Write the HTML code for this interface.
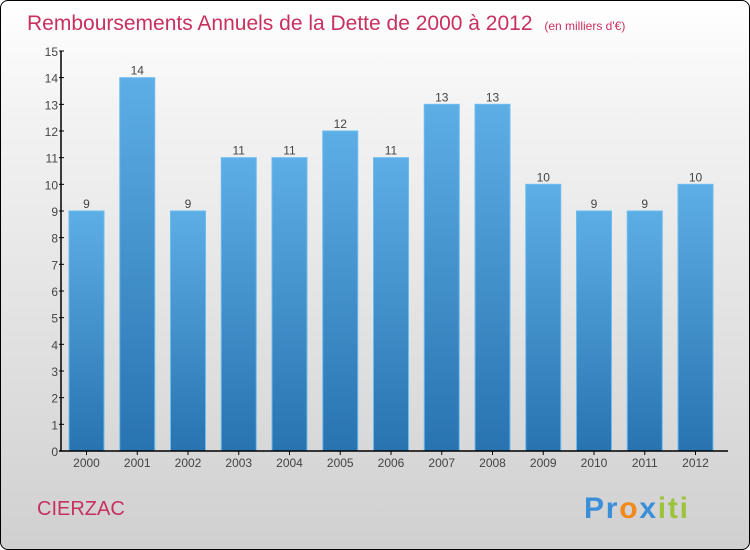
<!DOCTYPE html>
<html><head><meta charset="utf-8"><style>
body{margin:0;width:750px;height:550px;overflow:hidden}
#c{position:absolute;left:0;top:0;width:748px;height:548px;border:1px solid #000;border-radius:8px;background:linear-gradient(#ffffff,#f3f3f3 20%,#d0d0d0);overflow:hidden}
svg{position:absolute;left:0;top:0}
text{font-family:"Liberation Sans",sans-serif}
</style></head><body>
<div id="c">
<svg id="s" width="750" height="550">
<defs><linearGradient id="g" x1="0" y1="0" x2="0" y2="1"><stop offset="0" stop-color="#5eaee6"/><stop offset="1" stop-color="#2873b0"/></linearGradient></defs>
<text x="26" y="29" font-size="21" fill="#c8305f">Remboursements Annuels de la Dette de 2000 à 2012 <tspan font-size="12" dx="6">(en milliers d'€)</tspan></text>
<text x="36" y="514" font-size="20" fill="#c8305f">CIERZAC</text>
<text x="583" y="517" font-size="30" font-weight="bold" textLength="104"><tspan fill="#3a8fd8">Pr</tspan><tspan fill="#f08a1c">o</tspan><tspan fill="#3a8fd8">x</tspan><tspan fill="#9bc43a">iti</tspan></text>
<g id="plot"></g>
</svg></div>
<script>
const years=["2000","2001","2002","2003","2004","2005","2006","2007","2008","2009","2010","2011","2012"];
const values=[9,14,9,11,11,12,11,13,13,10,9,9,10];
const yTicks=[0,1,2,3,4,5,6,7,8,9,10,11,12,13,14,15];
const NS="http://www.w3.org/2000/svg";
const g=document.getElementById('plot');
const x0=60,y0=450,yTop=50,yMax=15,step=50.75,bw=35;
const yS=v=>y0-(v/yMax)*(y0-yTop);
const xS=i=>68+i*step;
function mk(t,a){const e=document.createElementNS(NS,t);for(const k in a)e.setAttribute(k,a[k]);g.appendChild(e);return e;}
values.forEach((v,i)=>{
 const r=mk('rect',{x:xS(i),y:yS(v),width:bw,height:y0-yS(v),fill:'url(#g)',stroke:'#6bbcf0','stroke-width':1});
 
 
 const t=mk('text',{x:xS(i)+bw/2,y:yS(v)-3,'font-size':12,fill:'#444','text-anchor':'middle'});t.textContent=v;
 
 
 const xl=mk('text',{x:xS(i)+bw/2,y:y0+16,'font-size':12,fill:'#444','text-anchor':'middle'});xl.textContent=years[i];
 
 
 const tk=mk('line',{x1:xS(i)+bw/2,x2:xS(i)+bw/2,y1:y0,y2:y0+4,stroke:'#000'});
 
 
});
yTicks.forEach(v=>{
 const l=mk('line',{x1:x0-2,x2:x0+3,y1:yS(v),y2:yS(v),stroke:'#000'});
 
 
 const t=mk('text',{x:x0-3,y:yS(v)+5,'font-size':12,fill:'#444','text-anchor':'end'});t.textContent=v;
 
 
});
const ya=mk('line',{x1:x0,x2:x0,y1:yTop,y2:y0,stroke:'#000','stroke-width':1.5});


const xa=mk('line',{x1:x0-2,x2:727,y1:y0,y2:y0,stroke:'#000','stroke-width':1.5});


</script>
</body></html>
